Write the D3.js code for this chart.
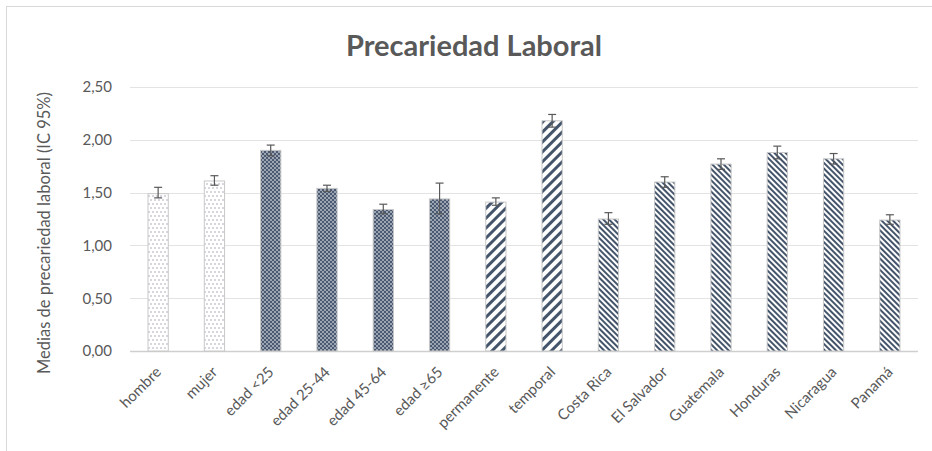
<!DOCTYPE html>
<html>
<head>
    <meta charset="utf-8">
    <script src="https://d3js.org/d3.v7.min.js"></script>
</head>

<style>
    body { margin: 0; background: white; }
    .axis text { fill: #595959; font-size: 15px; font-family: Lato, "Open Sans", sans-serif; }
    .axis path, .axis line { stroke: none; }
</style>

<body>
<div id="chart"></div>

<script>

    var categories = ['hombre', 'mujer', 'edad <25', 'edad 25-44', 'edad 45-64', 'edad \u226565',
        'permanente', 'temporal', 'Costa Rica', 'El Salvador', 'Guatemala', 'Honduras', 'Nicaragua', 'Panamá'];
    var means = [1.49, 1.61, 1.90, 1.54, 1.34, 1.44, 1.41, 2.18, 1.25, 1.60, 1.77, 1.88, 1.82, 1.24];
    var ciLow = [1.45, 1.57, 1.85, 1.51, 1.30, 1.30, 1.38, 2.12, 1.20, 1.55, 1.72, 1.82, 1.77, 1.20];
    var ciHigh = [1.55, 1.66, 1.95, 1.57, 1.39, 1.59, 1.45, 2.24, 1.31, 1.65, 1.82, 1.94, 1.87, 1.29];
    // which fill each bar uses
    var groups = ['sexo', 'sexo', 'edad', 'edad', 'edad', 'edad', 'contrato', 'contrato',
        'pais', 'pais', 'pais', 'pais', 'pais', 'pais'];
    var yTicks = [0, 0.5, 1, 1.5, 2, 2.5];

    var width = 932, height = 451;
    var padding = { top: 87, right: 14, bottom: 100, left: 130 };
    var navy = '#44546a';

    var svg = d3.select('#chart').append('svg')
        .attr('width', width)
        .attr('height', height);

    // chart frame
    svg.append('rect')
        .attr('x', 6.5).attr('y', 6.5)
        .attr('width', width + 10).attr('height', height + 10)
        .attr('fill', 'white')
        .attr('stroke', '#d9d9d9');

    var defs = svg.append('defs');

    // dotted white (sexo)
    var p1 = defs.append('pattern').attr('id', 'pSexo')
        .attr('patternUnits', 'userSpaceOnUse').attr('width', 4).attr('height', 8);
    p1.append('rect').attr('width', 4).attr('height', 8).attr('fill', 'white');
    p1.append('circle').attr('cx', 1).attr('cy', 1).attr('r', 0.7).attr('fill', '#8c96a8');
    p1.append('circle').attr('cx', 3).attr('cy', 5).attr('r', 0.7).attr('fill', '#8c96a8');

    // navy with light dots in a checkerboard (edad)
    var p2 = defs.append('pattern').attr('id', 'pEdad')
        .attr('patternUnits', 'userSpaceOnUse').attr('width', 4).attr('height', 4);
    p2.append('rect').attr('width', 4).attr('height', 4).attr('fill', '#4a5870');
    p2.append('circle').attr('cx', 1).attr('cy', 1).attr('r', 0.9).attr('fill', '#c3c9d4');
    p2.append('circle').attr('cx', 3).attr('cy', 3).attr('r', 0.9).attr('fill', '#c3c9d4');

    // wide upward stripes (contrato)
    var p3 = defs.append('pattern').attr('id', 'pContrato')
        .attr('patternUnits', 'userSpaceOnUse').attr('width', 7).attr('height', 7)
        .attr('patternTransform', 'rotate(45)');
    p3.append('rect').attr('width', 7).attr('height', 7).attr('fill', 'white');
    p3.append('rect').attr('width', 3).attr('height', 7).attr('fill', navy);

    // narrow downward stripes (pais)
    var p4 = defs.append('pattern').attr('id', 'pPais')
        .attr('patternUnits', 'userSpaceOnUse').attr('width', 4).attr('height', 4)
        .attr('patternTransform', 'rotate(-45)');
    p4.append('rect').attr('width', 4).attr('height', 4).attr('fill', 'white');
    p4.append('rect').attr('width', 2).attr('height', 4).attr('fill', navy);

    var fills = { sexo: 'url(#pSexo)', edad: 'url(#pEdad)', contrato: 'url(#pContrato)', pais: 'url(#pPais)' };

    var plotW = 788;

    var xScale = d3.scaleBand()
        .domain(categories)
        .range([0, plotW])
        .paddingInner(0.64)
        .paddingOuter(0.32);

    var yScale = d3.scaleLinear()
        .domain([0, 2.5])
        .range([264, 0]);

    var g = svg.append('g')
        .attr('transform', 'translate(' + padding.left + ', ' + padding.top + ')');

    // gridlines
    g.selectAll('line.grid')
        .data(yTicks)
        .enter()
        .append('line')
        .attr('class', 'grid')
        .attr('x1', 0).attr('x2', plotW)
        .attr('y1', function(d) { return Math.round(yScale(d)) + 0.5; })
        .attr('y2', function(d) { return Math.round(yScale(d)) + 0.5; })
        .attr('stroke', function(d) { return d === 0 ? '#cfcfcf' : '#e3e3e3'; })
        .attr('stroke-width', function(d) { return d === 0 ? 1.5 : 1; });

    // bars
    g.selectAll('rect.bar')
        .data(categories)
        .enter()
        .append('rect')
        .attr('class', 'bar')
        .attr('x', function(d) { return xScale(d); })
        .attr('width', xScale.bandwidth())
        .attr('y', function(d, i) { return yScale(means[i]); })
        .attr('height', function(d, i) { return yScale(0) - yScale(means[i]); })
        .attr('fill', function(d, i) { return fills[groups[i]]; })
        .attr('stroke', '#c8c8c8')
        .attr('stroke-width', 1);

    // error bars
    var err = g.selectAll('g.err')
        .data(categories)
        .enter()
        .append('g')
        .attr('class', 'err')
        .attr('transform', function(d) { return 'translate(' + (xScale(d) + xScale.bandwidth() / 2) + ',0)'; });

    err.append('line')
        .attr('y1', function(d, i) { return yScale(ciLow[i]); })
        .attr('y2', function(d, i) { return yScale(ciHigh[i]); })
        .attr('stroke', '#595959').attr('stroke-width', 1.2);
    err.append('line')
        .attr('x1', -4).attr('x2', 4)
        .attr('y1', function(d, i) { return yScale(ciHigh[i]); })
        .attr('y2', function(d, i) { return yScale(ciHigh[i]); })
        .attr('stroke', '#595959').attr('stroke-width', 1.2);
    err.append('line')
        .attr('x1', -4).attr('x2', 4)
        .attr('y1', function(d, i) { return yScale(ciLow[i]); })
        .attr('y2', function(d, i) { return yScale(ciLow[i]); })
        .attr('stroke', '#595959').attr('stroke-width', 1.2);

    // y axis
    g.append('g')
        .attr('class', 'axis')
        .call(d3.axisLeft(yScale)
            .tickValues(yTicks)
            .tickSize(0)
            .tickPadding(18)
            .tickFormat(function(d) { return d3.format('.2f')(d).replace('.', ','); }));

    // x axis, labels rotated 45 degrees
    g.append('g')
        .attr('class', 'axis')
        .attr('transform', 'translate(0,' + yScale(0) + ')')
        .call(d3.axisBottom(xScale).tickSize(0).tickPadding(0))
        .selectAll('text')
        .attr('text-anchor', 'end')
        .attr('y', 0)
        .attr('dy', 0)
        .attr('transform', 'translate(4,22) rotate(-45)');

    // title
    svg.append('text')
        .attr('x', 474)
        .attr('y', 56)
        .attr('text-anchor', 'middle')
        .attr('fill', '#595959')
        .style('font-family', 'Lato, "Open Sans", sans-serif')
        .style('font-size', '29px')
        .style('font-weight', 'bold')
        .text('Precariedad Laboral');

    // y axis title
    svg.append('text')
        .attr('transform', 'translate(50,233) rotate(-90)')
        .attr('text-anchor', 'middle')
        .attr('fill', '#595959')
        .style('font-family', 'Lato, "Open Sans", sans-serif')
        .style('font-size', '16.5px')
        .text('Medias de precariedad laboral (IC 95%)');

</script>
</body>
</html>
